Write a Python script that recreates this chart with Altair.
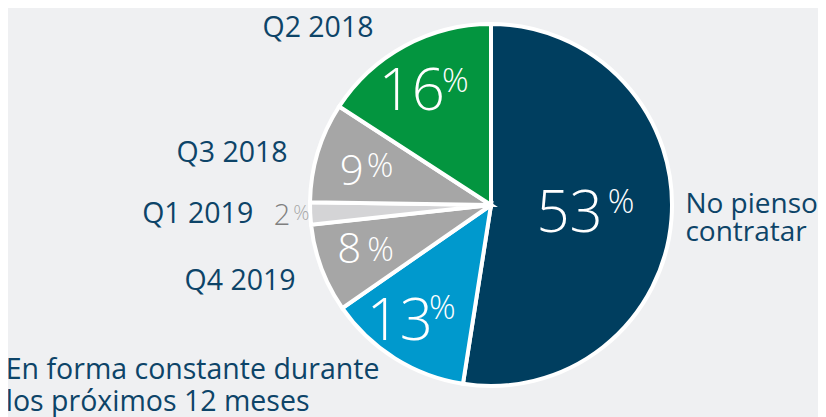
import altair as alt
import pandas as pd

# ---- data ----
categories = ["No pienso contratar",
              "En forma constante durante los próximos 12 meses",
              "Q4 2019", "Q1 2019", "Q3 2018", "Q2 2018"]
values = [53, 13, 8, 2, 9, 16]
label_text = ["No pienso\ncontratar",
              "En forma constante durante\nlos próximos 12 meses",
              "Q4 2019", "Q1 2019", "Q3 2018", "Q2 2018"]

palette = ["#003e5f", "#0099cd", "#a6a6a6", "#d4d4d6", "#a6a6a6", "#03953f"]
NAVY_TEXT = "#0d4468"
FONT = "Open Sans"

df = pd.DataFrame({
    "cat": categories,
    "value": values,
    "idx": list(range(len(values))),
    "label": label_text,
    "num": [str(v) for v in values],
})

base = alt.Chart(df).encode(
    theta=alt.Theta("value:Q", stack=True),
    order=alt.Order("idx:Q", sort="ascending"),
)

pie = base.mark_arc(outerRadius=181, stroke="white", strokeWidth=4).encode(
    color=alt.Color("cat:N", scale=alt.Scale(domain=categories, range=palette), legend=None)
)


def text_layer(i, expr, r, dx, dy, size, color, align, weight="normal", line_height=None):
    kw = dict(radius=r, dx=dx, dy=dy, fontSize=size, color=color, align=align,
              baseline="alphabetic", font=FONT, fontWeight=weight, lineBreak="\n")
    if line_height is not None:
        kw["lineHeight"] = line_height
    return (base.transform_calculate(t=f"datum.idx == {i} ? {expr} : ''")
            .mark_text(**kw)
            .encode(text="t:N"))


layers = [pie]

# (idx, radius, num dx, num dy, num size, pct dx, pct dy, pct size, num color, pct color)
num_layout = [
    (0, 110, 2, 18, 58, 7, -1, 33, "white", "white"),
    (1, 130, 11, 25, 58, 7, 4, 33, "white", "white"),
    (2, 130, -8, 12, 42, -2, 10, 33, "white", "white"),
    (3, 200, -1, 11, 29, 2, 6, 20, "#7f7f7f", "#a8a8a8"),
    (4, 130, -3, 18, 42, 0, 10, 33, "white", "white"),
    (5, 130, 16, 19, 58, 13, 1, 33, "white", "white"),
]
for i, r, ndx, ndy, nsz, pdx, pdy, psz, nc, pc in num_layout:
    layers.append(text_layer(i, "datum.num", r, ndx, ndy, nsz, nc, "right", weight=300))
    layers.append(text_layer(i, "'%'", r, pdx, pdy, psz, pc, "left", weight=300))

# (idx, radius, dx, dy, align, line height, size)
cat_layout = [
    (0, 200, -5, -8, "left", 28, 28),
    (1, 200, -379, 5, "left", 32, 28.5),
    (2, 200, -8, 15, "right", None, 28.5),
    (3, 200, -38, 9, "right", None, 28.5),
    (4, 200, -12, 15, "right", None, 28.5),
    (5, 200, -22, 8, "right", None, 28.5),
]
for i, r, dx, dy, align, lh, sz in cat_layout:
    layers.append(text_layer(i, "datum.label", r, dx, dy, sz, NAVY_TEXT, align, line_height=lh))

chart = (
    alt.layer(*layers)
    .properties(
        width=600, height=394,
        padding={"left": 183, "top": 0, "right": 27, "bottom": 15},
        autosize=alt.AutoSizeParams(type="none"),
        background="#eff0f2",
    )
    .configure_view(stroke=None)
)

chart.save("out.html", embed_options={"renderer": "svg", "actions": False})
